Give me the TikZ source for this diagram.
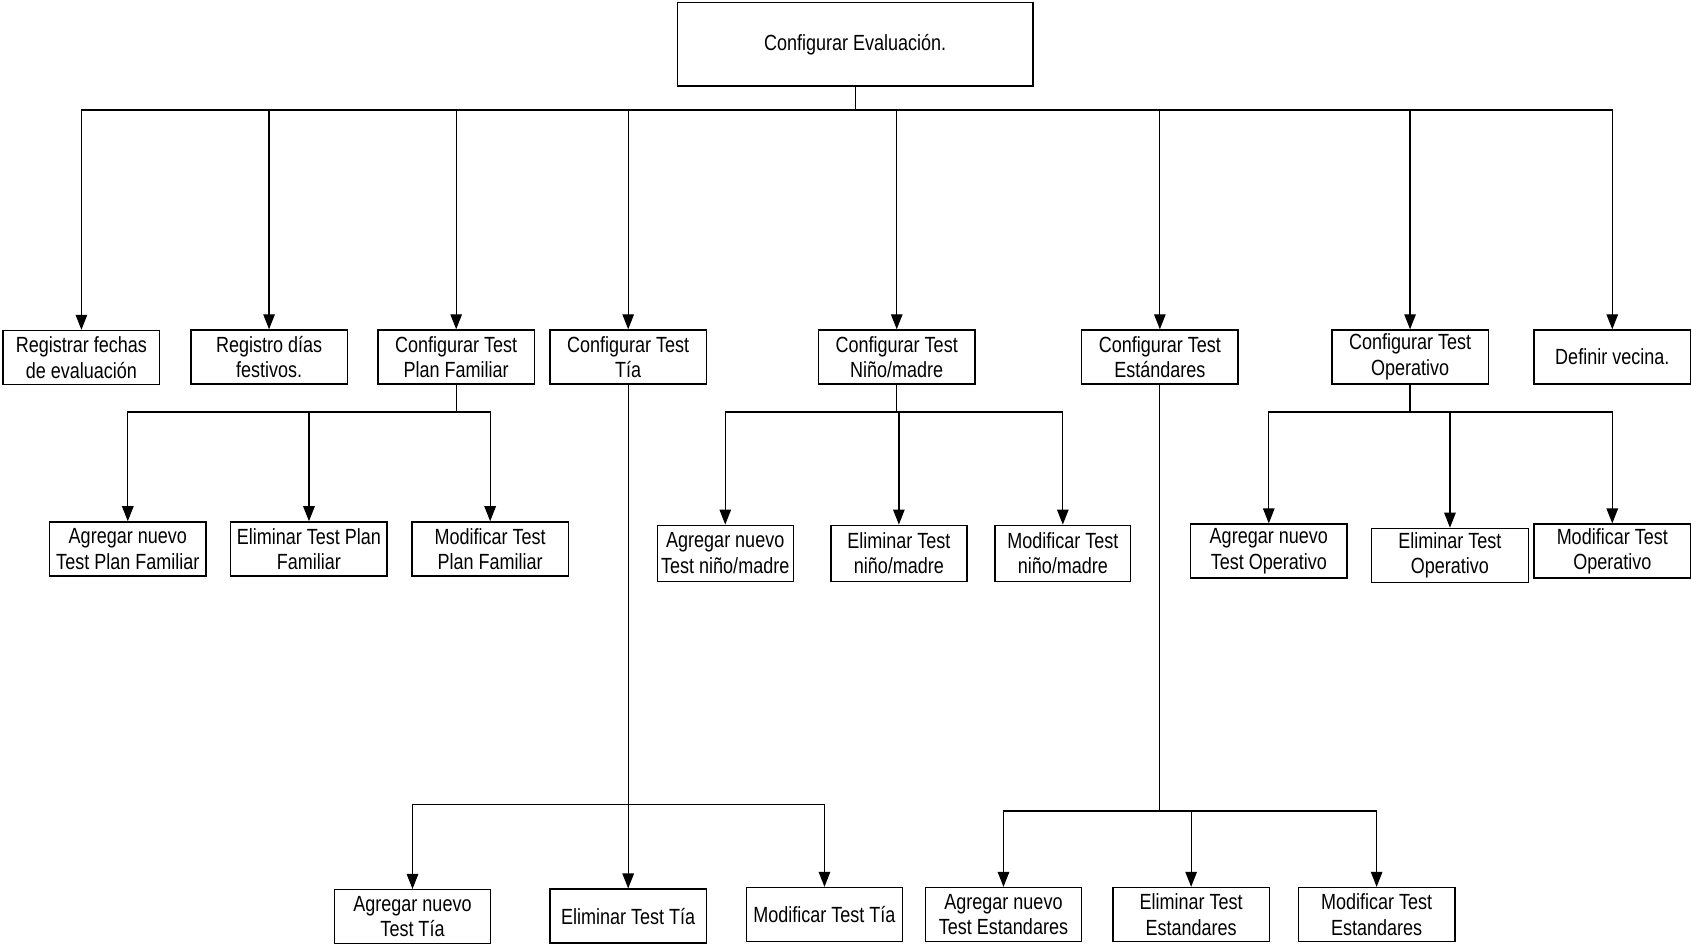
\documentclass[tikz,border=0pt]{standalone}
\usepackage{fontspec}
\setmainfont{Liberation Sans}[FakeStretch=0.82]
\usepackage{tikz}
\usetikzlibrary{calc,positioning,arrows.meta}

\begin{document}
\begin{tikzpicture}[x=0.02157cm, y=-0.02157cm,
    box/.style={draw, line width=0.8pt, align=center, minimum width=3.13cm, minimum height=1.08cm, inner sep=1pt, font=\fontsize{12.5}{14.5}\selectfont},
    nbox/.style={box, minimum width=2.72cm, minimum height=1.12cm},
    arr/.style={-{Triangle[length=0.3cm,width=0.23cm]}, line width=0.7pt},
    bus/.style={line width=0.7pt}]
      \useasboundingbox (0,0) rectangle (1568,877);

      \node[box, minimum width=7.12cm, minimum height=1.68cm] (root) at (793,41) {Configurar Evaluaci\'on.};

      \node[box] (reg) at (75.5,331.5) {Registrar fechas\\de evaluaci\'on};
      \node[box] (fest) at (249.5,331) {Registro d\'ias\\festivos.};
      \node[box] (pf) at (423,331) {Configurar Test\\Plan Familiar};
      \node[box] (tia) at (582.5,331) {Configurar Test\\T\'ia};
      \node[box] (nm) at (831.5,331) {Configurar Test\\Ni\~no/madre};
      \node[box] (est) at (1075.5,331) {Configurar Test\\Est\'andares};
      \node[box] (op) at (1307.5,331) {Configurar Test\\Operativo};
      \node[box] (vec) at (1495,331) {Definir vecina.};

      \node[box] (pf1) at (118.5,509) {Agregar nuevo\\Test Plan Familiar};
      \node[box] (pf2) at (286.5,509) {Eliminar Test Plan\\Familiar};
      \node[box] (pf3) at (454.5,509) {Modificar Test\\Plan Familiar};

      \node[nbox] (nm1) at (672.5,513) {Agregar nuevo\\Test ni\~no/madre};
      \node[nbox] (nm2) at (833.5,513) {Eliminar Test\\ni\~no/madre};
      \node[nbox] (nm3) at (985.5,513) {Modificar Test\\ni\~no/madre};

      \node[box] (op1) at (1176.5,511) {Agregar nuevo\\Test Operativo};
      \node[box] (op2) at (1344.5,515) {Eliminar Test\\Operativo};
      \node[box] (op3) at (1495,511) {Modificar Test\\Operativo};

      \node[box] (tia1) at (382.5,850) {Agregar nuevo\\Test T\'ia};
      \node[box] (tia2) at (582.5,849.5) {Eliminar Test T\'ia};
      \node[box] (tia3) at (764.5,848) {Modificar Test T\'ia};

      \node[box] (est1) at (930.5,848) {Agregar nuevo\\Test Estandares};
      \node[box] (est2) at (1104.5,848) {Eliminar Test\\Estandares};
      \node[box] (est3) at (1276.5,848) {Modificar Test\\Estandares};

      \coordinate (rootbus) at (root.south |- 0,102);
      \coordinate (pfbus) at (pf.south |- 0,382);
      \coordinate (nmbus) at (nm.south |- 0,382);
      \coordinate (opbus) at (op.south |- 0,382);
      \coordinate (tiabus) at (tia.south |- 0,746);
      \coordinate (estbus) at (est.south |- 0,752);

      \draw[bus] (root.south) -- (rootbus);
      \foreach \n in {reg,fest,pf,tia,nm,est,op,vec}
        \draw[arr] (rootbus) -| (\n.north);

      \draw[bus] (pf.south) -- (pfbus);
      \foreach \n in {pf1,pf2,pf3}
        \draw[arr] (pfbus) -| (\n.north);

      \draw[bus] (nm.south) -- (nmbus);
      \foreach \n in {nm1,nm2,nm3}
        \draw[arr] (nmbus) -| (\n.north);

      \draw[bus] (op.south) -- (opbus);
      \foreach \n in {op1,op2,op3}
        \draw[arr] (opbus) -| (\n.north);

      \draw[bus] (tia.south) -- (tiabus);
      \foreach \n in {tia1,tia2,tia3}
        \draw[arr] (tiabus) -| (\n.north);

      \draw[bus] (est.south) -- (estbus);
      \foreach \n in {est1,est2,est3}
        \draw[arr] (estbus) -| (\n.north);
    \end{tikzpicture}
\end{document}
